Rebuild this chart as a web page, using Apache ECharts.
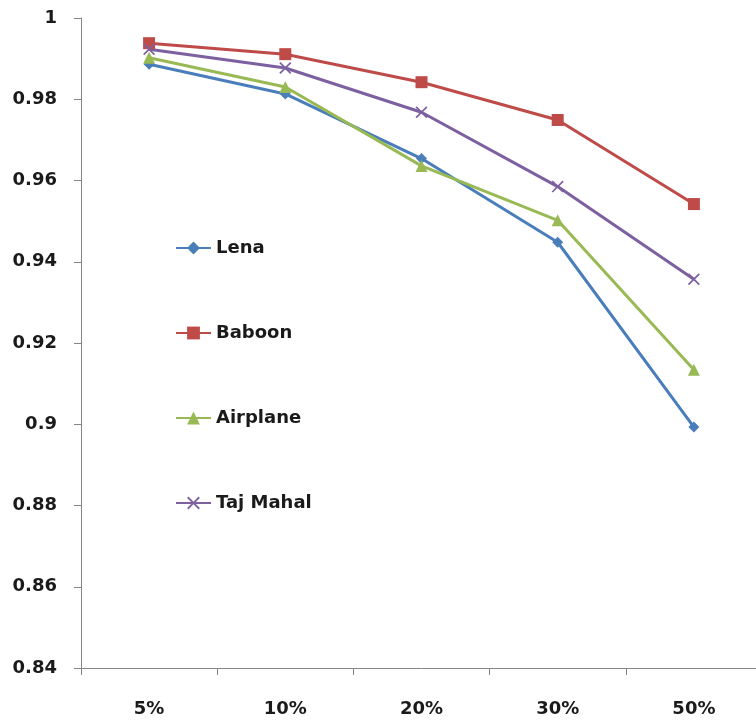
<!DOCTYPE html>
<html><head><meta charset="utf-8">
<script src="https://cdn.jsdelivr.net/npm/echarts@6/dist/echarts.min.js"></script>
<style>html,body{margin:0;padding:0;background:#fff;overflow:hidden}#c{width:762px;height:724px}</style>
</head><body><div id="c"></div>
<script>
const categories = ['5%', '10%', '20%', '30%', '50%'];
const lena = [0.9886, 0.9813, 0.9654, 0.9448, 0.8993];
const baboon = [0.9938, 0.9911, 0.9842, 0.9749, 0.9542];
const airplane = [0.9902, 0.9830, 0.9636, 0.9502, 0.9134];
const tajMahal = [0.9923, 0.9877, 0.9768, 0.9585, 0.9357];
const yTicks = { min: 0.84, max: 1, interval: 0.02 };

const font = 'DejaVu Sans';
const txt = '#1a1a1a';
const crossPath = 'path://M1,0L5,4L9,0L10,1L6,5L10,9L9,10L5,6L1,10L0,9L4,5L0,1Z';

function s(name, data, color, symbol, size) {
  return {
    name, type: 'line', data, symbol, symbolSize: size,
    showAllSymbol: true,
    lineStyle: { color, width: 3 },
    itemStyle: { color, borderWidth: 0 },
    emphasis: { disabled: true }
  };
}

const chart = echarts.init(document.getElementById('c'));
chart.setOption({
  animation: false,
  backgroundColor: '#fff',
  grid: { left: 81, top: 18, right: 0, bottom: 56, containLabel: false },
  legend: {
    orient: 'vertical', left: 170, top: 234,
    itemWidth: 35, itemHeight: 16, itemGap: 67,
    textStyle: { fontFamily: font, fontWeight: 'bold', fontSize: 18, color: txt },
    data: ['Lena', 'Baboon', 'Airplane', 'Taj Mahal']
  },
  xAxis: {
    type: 'category', data: categories, boundaryGap: true,
    axisLine: { lineStyle: { color: '#868686', width: 1 } },
    axisTick: { show: true, length: 7, lineStyle: { color: '#868686' } },
    axisLabel: { margin: 32, fontFamily: font, fontWeight: 'bold', fontSize: 18, color: txt },
    splitLine: { show: false }
  },
  yAxis: {
    type: 'value', min: yTicks.min, max: yTicks.max, interval: yTicks.interval,
    axisLine: { show: true, lineStyle: { color: '#868686', width: 1 } },
    axisTick: { show: true, length: 7, lineStyle: { color: '#868686' } },
    axisLabel: { margin: 24, fontFamily: font, fontWeight: 'bold', fontSize: 18, color: txt,
      formatter: v => String(Number(v.toFixed(2))) },
    splitLine: { show: false }
  },
  series: [
    s('Lena', lena, '#4A7EBB', 'diamond', 11),
    s('Baboon', baboon, '#BE4B48', 'rect', 12),
    s('Airplane', airplane, '#98B954', 'triangle', 12),
    s('Taj Mahal', tajMahal, '#7D60A0', crossPath, 12)
  ]
});
</script></body></html>
